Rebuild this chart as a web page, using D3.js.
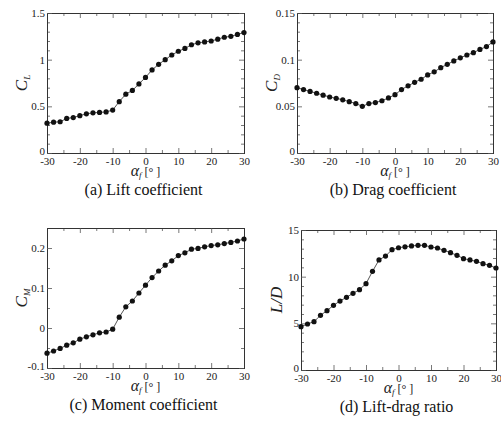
<!DOCTYPE html>
<html>
<head>
<meta charset="utf-8">
<script src="https://cdn.jsdelivr.net/npm/d3@7"></script>
<style>
  body { margin: 0; background: #fff; }
  svg, svg text { font-family: "Liberation Serif", "Times New Roman", "DejaVu Serif", serif !important; }
</style>
</head>
<body>
<svg width="501" height="421"></svg>
<script>
const alpha = d3.range(-30, 31, 2);

const cl = [0.32, 0.33, 0.335, 0.37, 0.38, 0.40, 0.42, 0.43, 0.435, 0.44, 0.46,
  0.55, 0.63, 0.67, 0.74, 0.81, 0.89, 0.95, 1.00, 1.05, 1.09, 1.12, 1.16,
  1.18, 1.19, 1.20, 1.22, 1.24, 1.25, 1.27, 1.29];

const cd = [0.070, 0.068, 0.066, 0.064, 0.062, 0.060, 0.0586, 0.057, 0.055, 0.053, 0.050,
  0.053, 0.054, 0.056, 0.059, 0.0625, 0.068, 0.072, 0.0757, 0.079, 0.0836, 0.087, 0.0914,
  0.095, 0.0986, 0.102, 0.105, 0.1075, 0.111, 0.114, 0.119];

const cm = [-0.063, -0.0575, -0.051, -0.043, -0.037, -0.028, -0.022, -0.017, -0.012, -0.010, -0.003,
  0.027, 0.053, 0.0675, 0.0875, 0.107, 0.126, 0.1425, 0.157, 0.168, 0.181, 0.188, 0.197,
  0.199, 0.203, 0.206, 0.208, 0.211, 0.214, 0.2175, 0.2225];

const ld = [4.64, 4.93, 5.18, 5.86, 6.36, 6.93, 7.39, 7.79, 8.21, 8.61, 9.25,
  10.57, 11.79, 12.21, 12.89, 13.1, 13.2, 13.29, 13.36, 13.36, 13.18, 13.07, 12.82,
  12.57, 12.29, 11.93, 11.79, 11.64, 11.39, 11.21, 10.93];

const xTicks = [-30, -20, -10, 0, 10, 20, 30];

const panels = [
  { values: cl, caption: "(a) Lift coefficient", ylab: ["C", "L"], domain: [0, 1.5],
    ticks: [0, 0.5, 1, 1.5], minor: 0.1, left: 47, top: 13, w: 197 },
  { values: cd, caption: "(b) Drag coefficient", ylab: ["C", "D"], domain: [0, 0.15],
    ticks: [0, 0.05, 0.1, 0.15], minor: 0.01, left: 297, top: 13, w: 196 },
  { values: cm, caption: "(c) Moment coefficient", ylab: ["C", "M"], domain: [-0.1, 0.25],
    ticks: [-0.1, 0, 0.1, 0.2], minor: 0.05, left: 47, top: 228, w: 197 },
  { values: ld, caption: "(d) Lift-drag ratio", ylab: ["L/D", ""], domain: [0, 15],
    ticks: [0, 5, 10, 15], minor: 1, left: 301, top: 230, w: 195 }
];

const svg = d3.select("svg");
const h = 140;

panels.forEach(p => {
  const g = svg.append("g").attr("transform", "translate(" + p.left + "," + p.top + ")");
  const x = d3.scaleLinear().domain([-30, 30]).range([0, p.w]);
  const y = d3.scaleLinear().domain(p.domain).range([h, 0]);

  const minorY = d3.range(p.domain[0], p.domain[1] + 1e-9, p.minor)
    .filter(v => !p.ticks.some(t => Math.abs(t - v) < 1e-9));
  const minorX = d3.range(-25, 30, 10);

  // ticks drawn inward on all four sides
  const axes = [
    d3.axisBottom(x).tickValues(xTicks).tickSize(-5).tickPadding(4).tickFormat(d => String(d)),
    d3.axisTop(x).tickValues(xTicks).tickSize(-5).tickFormat(""),
    d3.axisLeft(y).tickValues(p.ticks).tickSize(-5).tickPadding(2).tickFormat(d => String(d)),
    d3.axisRight(y).tickValues(p.ticks).tickSize(-5).tickFormat("")
  ];
  const minors = [
    d3.axisBottom(x).tickValues(minorX).tickSize(-3).tickFormat(""),
    d3.axisTop(x).tickValues(minorX).tickSize(-3).tickFormat(""),
    d3.axisLeft(y).tickValues(minorY).tickSize(-3).tickFormat(""),
    d3.axisRight(y).tickValues(minorY).tickSize(-3).tickFormat("")
  ];
  const offs = ["0," + h, "0,0", "0,0", p.w + ",0"];
  const axisGroups = axes.map((a, i) => {
    g.append("g").attr("transform", "translate(" + offs[i] + ")").call(minors[i]);
    return g.append("g").attr("transform", "translate(" + offs[i] + ")").call(a);
  });
  // lowest y label sits a little higher, as in the original
  axisGroups[2].selectAll(".tick text").filter(d => d === p.domain[0]).attr("dy", "0.1em");

  g.selectAll(".domain").attr("stroke", "#333").attr("stroke-width", 1);
  g.selectAll(".tick line").attr("stroke", "#555").attr("stroke-width", 0.8);
  g.selectAll(".tick text").attr("font-size", 11).attr("fill", "#222");

  const line = d3.line().x((d, i) => x(alpha[i])).y(d => y(d));
  g.append("path").datum(p.values)
    .attr("d", line).attr("fill", "none").attr("stroke", "#555").attr("stroke-width", 1);
  g.selectAll(".pt").data(p.values).enter().append("circle")
    .attr("cx", (d, i) => x(alpha[i])).attr("cy", d => y(d))
    .attr("r", 2.6).attr("fill", "#111");

  // x label
  const xl = g.append("text").attr("x", p.w / 2).attr("y", h + 23)
    .attr("text-anchor", "middle").attr("fill", "#222");
  xl.append("tspan").attr("font-style", "italic").attr("font-size", 16).text("α");
  xl.append("tspan").attr("font-style", "italic").attr("font-size", 9).attr("dy", 2).text("f");
  xl.append("tspan").attr("font-size", 12).attr("dy", -2).text(" [° ]");

  // y label
  const yl = g.append("text")
    .attr("transform", "translate(" + (p.ylab[1] ? -20 : -19) + "," + (h / 2) + ") rotate(-90)")
    .attr("text-anchor", "middle").attr("fill", "#222").attr("font-style", "italic");
  yl.append("tspan").attr("font-size", 17).text(p.ylab[0]);
  if (p.ylab[1]) yl.append("tspan").attr("font-size", 9).attr("dy", 3).text(p.ylab[1]);

  // caption
  g.append("text").attr("x", p.w / 2 - 2).attr("y", h + 42)
    .attr("text-anchor", "middle").attr("font-size", 16).attr("fill", "#111")
    .text(p.caption);
});
</script>
</body>
</html>
